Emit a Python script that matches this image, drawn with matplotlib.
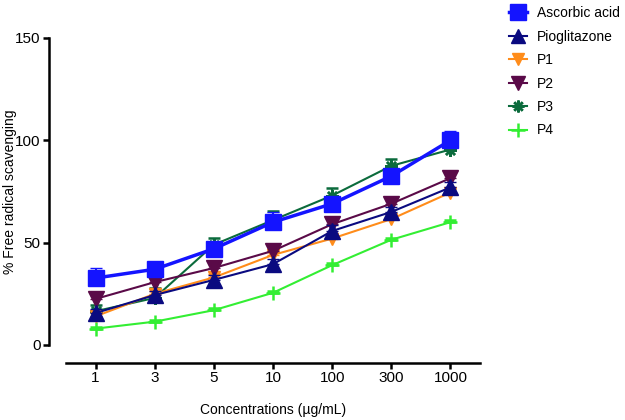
import numpy as np
import matplotlib.pyplot as plt

plt.rcParams['font.family'] = ['Liberation Sans', 'DejaVu Sans']

# data
concentrations = ['1', '3', '5', '10', '100', '300', '1000']
ascorbic = [32.7, 37.0, 47.0, 60.0, 69.0, 82.5, 100.0]
ascorbic_err = [5.0, 3.0, 3.0, 5.0, 3.0, 3.0, 4.5]
pioglitazone = [15.6, 24.4, 31.8, 39.5, 55.7, 65.0, 77.0]
pioglitazone_err = [2.0, 2.0, 2.5, 2.5, 3.0, 2.5, 2.5]
p1 = [14.0, 25.0, 33.0, 44.0, 52.0, 61.5, 74.5]
p1_err = [1.5, 1.5, 1.5, 1.5, 2.0, 1.5, 1.5]
p2 = [22.5, 30.7, 37.6, 46.0, 59.0, 69.0, 81.5]
p2_err = [2.0, 2.0, 2.0, 2.0, 2.5, 2.0, 2.5]
p3 = [16.5, 23.0, 49.0, 61.0, 73.0, 87.5, 95.5]
p3_err = [3.0, 5.0, 3.5, 4.5, 3.5, 3.5, 2.0]
p4 = [8.0, 11.4, 17.0, 25.5, 39.0, 51.4, 60.0]
p4_err = [1.0, 1.0, 1.0, 1.0, 1.0, 1.0, 1.0]

x = np.arange(len(concentrations))

fig = plt.figure(figsize=(6.25, 4.2), dpi=100)
ax = fig.add_axes([0.1056, 0.1786, 0.6624, 0.731])

series = [
    ('P4', p4, p4_err, '#33ee33', '+', 10, 1.5, 2),
    ('P3', p3, p3_err, '#0b6b3c', (8, 2, 0), 9, 1.5, 3),
    ('P1', p1, p1_err, '#ff8c1a', 'v', 9, 1.5, 4),
    ('P2', p2, p2_err, '#5a0a48', 'v', 11, 1.5, 5),
    ('Pioglitazone', pioglitazone, pioglitazone_err, '#0a0a80', '^', 11, 1.5, 6),
    ('Ascorbic acid', ascorbic, ascorbic_err, '#1414ff', 's', 12, 2.5, 7),
]

def mew(mk):
    return 1.8 if mk in ('+', (8, 2, 0)) else 1

for name, vals, err, col, mk, ms, lw, z in series:
    ax.errorbar(x, vals, yerr=[np.zeros(len(err)), err], color=col, marker=mk,
                markersize=ms, linewidth=lw, capsize=4, capthick=2,
                elinewidth=1.5, markeredgewidth=mew(mk), zorder=z, clip_on=False)

ax.set_xlim(-0.5, 6.5)
ax.set_ylim(0, 150)
ax.set_yticks([0, 50, 100, 150])
ax.set_xticks(x)
ax.set_xticklabels(concentrations)

for s in ['top', 'right']:
    ax.spines[s].set_visible(False)
# outward offsets are in points (1 px = 0.72 pt at 100 dpi)
ax.spines['left'].set_position(('outward', 12.2))
ax.spines['bottom'].set_position(('outward', 13))
ax.spines['left'].set_linewidth(1.8)
ax.spines['bottom'].set_linewidth(1.8)
ax.tick_params(axis='both', labelsize=11, width=1.8, length=4, direction='out', pad=2)

ax.set_ylabel('% Free radical scavenging', fontsize=10)
ax.yaxis.set_label_coords(-0.118, 0.5)
ax.set_xlabel('Concentrations (\u00b5g/mL)', fontsize=10)
ax.xaxis.set_label_coords(0.5, -0.19)

order = ['Ascorbic acid', 'Pioglitazone', 'P1', 'P2', 'P3', 'P4']
leg_handles = []
for name in order:
    for n, vals, err, col, mk, ms, lw, z in series:
        if n == name:
            h, = ax.plot([], [], color=col, marker=mk, markersize=ms * 0.95,
                         linewidth=lw, markeredgewidth=mew(mk))
            leg_handles.append(h)
fig.legend(leg_handles, order, loc='upper left', bbox_to_anchor=(0.795, 1.015),
           frameon=False, fontsize=10, handlelength=1.3, labelspacing=0.68,
           handletextpad=0.7)

fig.savefig('out.png', dpi=100)
